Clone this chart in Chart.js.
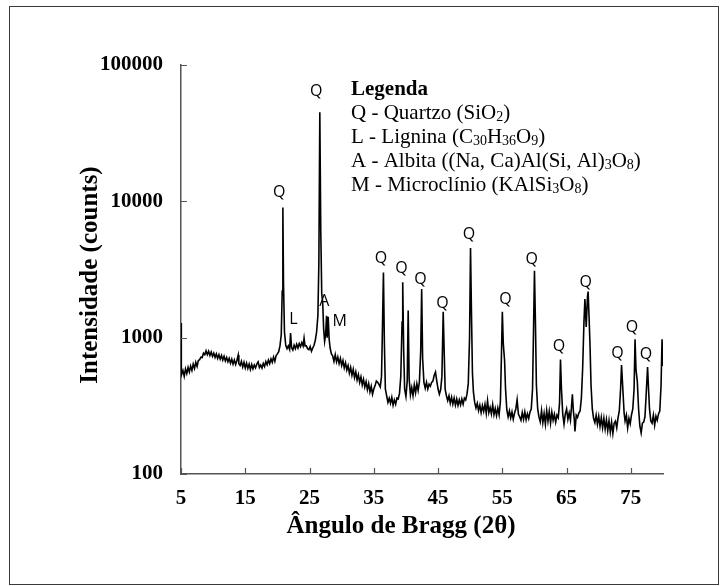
<!DOCTYPE html>
<html>
<head>
<meta charset="utf-8">
<script src="https://cdn.jsdelivr.net/npm/chart.js@4.4.1/dist/chart.umd.min.js"></script>
<style>
  html, body { margin: 0; padding: 0; background: #fff; }
  #wrap { position: relative; width: 726px; height: 586px; }
  #xrdChart { display: block; }
  #frame { position: absolute; left: 9px; top: 6px; width: 710px; height: 579px; border: 1px solid #3a3a3a; box-sizing: border-box; pointer-events: none; }
</style>
</head>
<body>
<div id="wrap">
  <canvas id="xrdChart" width="726" height="586"></canvas>
  <div id="frame"></div>
</div>
<script>
const angles = [
  5.0, 5.05, 5.3, 5.5, 5.7, 5.9, 6.1, 6.3, 6.5, 6.7, 6.9, 7.1, 7.3, 7.5, 7.7, 7.9,
  8.1, 8.3, 8.5, 8.7, 8.9, 9.1, 9.3, 9.5, 9.7, 9.9, 10.1, 10.3, 10.5, 10.7, 10.9,
  11.1, 11.3, 11.5, 11.7, 11.9, 12.1, 12.3, 12.5, 12.7, 12.9, 13.1, 13.3, 13.5, 13.7,
  13.9, 14.0, 14.2, 14.4, 14.6, 14.8, 15.0, 15.2, 15.4, 15.6, 15.8, 16.0, 16.2, 16.4,
  16.6, 16.8, 17.0, 17.2, 17.4, 17.6, 17.8, 18.0, 18.2, 18.4, 18.6, 18.8, 19.0, 19.2,
  19.4, 19.6, 19.8, 20.0, 20.2, 20.4, 20.6, 20.75, 20.85, 20.95, 21.1, 21.3, 21.5,
  21.7, 21.9, 22.05, 22.2, 22.4, 22.6, 22.8, 23.0, 23.2, 23.4, 23.6, 23.8, 24.0,
  24.15, 24.3, 24.5, 24.7, 24.9, 25.1, 25.3, 25.5, 25.7, 25.9, 26.1, 26.3, 26.45,
  26.6, 26.75, 26.9, 27.05, 27.2, 27.35, 27.5, 27.65, 27.75, 27.9, 28.05,
  28.2, 28.4, 28.6, 28.8, 29.0, 29.2, 29.4, 29.6, 29.8, 30.0, 30.2, 30.4, 30.6, 30.8,
  31.0, 31.2, 31.4, 31.6, 31.8, 32.0, 32.2, 32.4, 32.6, 32.8, 33.0, 33.2, 33.4, 33.6,
  33.8, 34.0, 34.2, 34.4, 34.6, 34.8, 35.0, 35.2, 35.4, 35.6, 35.8, 36.0, 36.2,
  36.35, 36.5, 36.65, 36.8, 37.0, 37.2, 37.4, 37.6, 37.8, 38.0, 38.2, 38.4, 38.6,
  38.8, 39.0, 39.2, 39.4, 39.5, 39.65, 39.8, 40.0, 40.2, 40.35, 40.5, 40.7, 40.9,
  41.1, 41.3, 41.5, 41.7, 41.9, 42.1, 42.3, 42.45, 42.6, 42.8, 43.0, 43.2, 43.4,
  43.6, 43.8, 44.0, 44.2, 44.4, 44.6, 44.8, 45.0, 45.2, 45.4, 45.6, 45.8, 45.95,
  46.1, 46.3, 46.5, 46.7, 46.9, 47.1, 47.3, 47.5, 47.7, 47.9, 48.1, 48.3, 48.5,
  48.7, 48.9, 49.1, 49.3, 49.5, 49.7, 49.9, 50.05, 50.2, 50.35, 50.5, 50.7, 50.9,
  51.1, 51.3, 51.5, 51.7, 51.9, 52.1, 52.3, 52.5, 52.7, 52.9, 53.1, 53.3, 53.5,
  53.7, 53.9, 54.1, 54.3, 54.5, 54.7, 54.85, 55.0, 55.15, 55.35, 55.5, 55.7, 55.9,
  56.1, 56.3, 56.5, 56.7, 56.9, 57.1, 57.3, 57.5, 57.7, 57.9, 58.1, 58.3, 58.5,
  58.7, 58.9, 59.1, 59.3, 59.5, 59.7, 59.85, 60.0, 60.15, 60.3, 60.5, 60.7, 60.9,
  61.1, 61.3, 61.5, 61.7, 61.9, 62.1, 62.3, 62.5, 62.7, 62.9, 63.1, 63.3, 63.5,
  63.7, 63.9, 64.05, 64.2, 64.4, 64.6, 64.8, 65.0, 65.2, 65.4, 65.6, 65.8, 65.9,
  66.05, 66.2, 66.3, 66.5, 66.7, 66.9, 67.1, 67.3, 67.5, 67.7, 67.85, 68.05, 68.25,
  68.35, 68.5, 68.65, 68.8, 69.0, 69.2, 69.4, 69.6, 69.8, 70.0, 70.2, 70.4, 70.6,
  70.8, 71.0, 71.2, 71.4, 71.6, 71.8, 72.0, 72.2, 72.4, 72.6, 72.8, 73.0, 73.2,
  73.4, 73.55, 73.75, 73.95, 74.1, 74.3, 74.5, 74.7, 74.9, 75.1, 75.3, 75.5, 75.65,
  75.8, 76.0, 76.2, 76.4, 76.6, 76.8, 77.0, 77.2, 77.4, 77.6, 77.75, 77.9, 78.1,
  78.3, 78.5, 78.7, 78.9, 79.1, 79.3, 79.5, 79.7, 79.85, 80.0
];

// Intensidade (counts) em cada ângulo (mesma disposição de linhas)
const counts = [
  1280, 530, 575, 520, 590, 545, 605, 560, 620, 575, 640, 595, 660, 615, 680, 690,
  720, 715, 770, 750, 800, 750, 795, 740, 785, 730, 770, 715, 760, 705, 750,
  695, 740, 685, 730, 675, 715, 665, 705, 650, 695, 640, 685, 635, 680,
  745, 645, 625, 670, 610, 660, 600, 650, 595, 640, 585, 635, 590, 630,
  600, 640, 665, 605, 630, 598, 648, 615, 668, 632, 684, 645, 700, 660,
  720, 670, 740, 760, 790, 870, 1050, 2200, 9000, 2500, 1100, 880, 830,
  870, 820, 1080, 845, 810, 880, 830, 895, 840, 905, 860, 920, 870,
  990, 870, 870, 830, 815, 860, 795, 840, 880, 960, 1100, 1450, 3500,
  45000, 6000, 2100, 1800, 1150, 940, 1050, 1450, 1000, 1420, 980,
  840, 760, 735, 670, 750, 665, 720, 645, 705, 625, 680, 600, 655, 580,
  625, 550, 605, 530, 585, 510, 560, 490, 535, 470, 515, 450, 495, 435,
  475, 415, 460, 400, 440, 385, 420, 445, 480, 470, 455, 435, 520,
  1200, 3000, 900, 420, 375, 335, 360, 330, 365, 320, 350, 325, 360,
  355, 390, 520, 1300, 2550, 800, 420, 370, 480, 1580, 500, 380, 430,
  375, 450, 395, 460, 410, 475, 800, 2270, 700, 470, 425, 470, 420,
  455, 440, 470, 480, 530, 560, 480, 420, 385, 415, 520, 1550, 800,
  420, 375, 345, 375, 330, 365, 325, 360, 320, 355, 318, 350, 322,
  355, 325, 360, 350, 385, 460, 1000, 4550, 1500, 550, 400, 335, 305,
  330, 292, 320, 282, 318, 288, 325, 278, 345, 282, 308, 276, 322,
  272, 302, 268, 305, 272, 340, 700, 1550, 900, 680, 420, 295, 262,
  290, 258, 285, 252, 280, 300, 350, 275, 262, 248, 282, 252, 286,
  250, 276, 255, 285, 300, 420, 1100, 3100, 1300, 450, 300, 262, 242,
  292, 238, 278, 232, 292, 244, 288, 236, 284, 248, 274, 240, 270,
  258, 330, 690, 420, 275, 232, 276, 300, 252, 280, 248, 330, 385,
  290, 250, 205, 270, 260, 280, 290, 360, 600, 1300, 1920, 1200, 2000,
  2180, 1400, 860, 450, 300, 255, 238, 270, 232, 265, 224, 260, 218,
  256, 214, 250, 208, 246, 203, 240, 198, 236, 244, 218, 258, 290,
  420, 630, 420, 280, 245, 270, 218, 256, 234, 272, 300, 420, 975,
  580, 480, 300, 225, 200, 236, 240, 265, 400, 610, 420, 300, 245,
  236, 270, 228, 266, 248, 276, 290, 450, 975, 620
];

const xTickValues = [5, 15, 25, 35, 45, 55, 65, 75];
const yTickValues = [100, 1000, 10000, 100000];

// Rótulos das fases sobre os picos
const peakLabels = ['Q', 'Q', 'L', 'A', 'M', 'Q', 'Q', 'Q', 'Q', 'Q', 'Q', 'Q', 'Q', 'Q', 'Q', 'Q', 'Q'];
const peakLabelAngles = [20.28, 26.05, 22.5, 27.3, 29.7, 36.13, 39.3, 42.26, 45.7, 49.82, 55.5, 59.57, 63.83, 67.99, 72.93, 75.16, 77.34];
const peakLabelCounts = [11700, 64500, 1350, 1850, 1310, 3830, 3240, 2690, 1790, 5710, 1920, 3720, 862, 2550, 771, 1188, 750];

// Legenda (índices ímpares = subscrito)
const legendTitle = 'Legenda';
const legendLines = [
  ['Q - Quartzo (SiO', '2', ')'],
  ['L - Lignina (C', '30', 'H', '36', 'O', '9', ')'],
  ['A - Albita ((Na, Ca)Al(Si, Al)', '3', 'O', '8', ')'],
  ['M - Microclínio (KAlSi', '3', 'O', '8', ')']
];

const xTitle = 'Ângulo de Bragg (2θ)';
const yTitle = 'Intensidade (counts)';

const serif = '"Liberation Serif", "Times New Roman", serif';

const annotationsPlugin = {
  id: 'annotations',
  afterDraw(chart) {
    const ctx = chart.ctx;
    const xs = chart.scales.x;
    const ys = chart.scales.y;
    const area = chart.chartArea;
    ctx.save();

    // marcas de escala para dentro
    ctx.strokeStyle = '#555';
    ctx.lineWidth = 1.2;
    ctx.beginPath();
    yTickValues.forEach(v => {
      const py = Math.round(ys.getPixelForValue(v)) + 0.5;
      ctx.moveTo(area.left, py);
      ctx.lineTo(area.left + 6, py);
    });
    xTickValues.forEach(v => {
      const px = Math.round(xs.getPixelForValue(v)) + 0.5;
      ctx.moveTo(px, area.bottom);
      ctx.lineTo(px, area.bottom - 6);
    });
    ctx.stroke();

    // títulos dos eixos
    ctx.fillStyle = '#000';
    ctx.font = 'bold 25px ' + serif;
    ctx.textAlign = 'center';
    ctx.textBaseline = 'middle';
    ctx.fillText(xTitle, 401, 527);
    ctx.save();
    ctx.translate(91, 275);
    ctx.rotate(-Math.PI / 2);
    ctx.fillText(yTitle, 0, 0);
    ctx.restore();

    // rótulos dos picos
    ctx.font = '16px "Open Sans", sans-serif';
    peakLabels.forEach((t, i) => {
      ctx.fillText(t, xs.getPixelForValue(peakLabelAngles[i]), ys.getPixelForValue(peakLabelCounts[i]));
    });

    // legenda
    const lx = 351;
    let ly = 95;
    ctx.textAlign = 'left';
    ctx.textBaseline = 'alphabetic';
    ctx.font = 'bold 21px ' + serif;
    ctx.fillText(legendTitle, lx, ly);
    legendLines.forEach(parts => {
      ly += 24;
      let cx = lx;
      parts.forEach((p, j) => {
        if (j % 2 === 1) {
          ctx.font = '14px ' + serif;
          ctx.fillText(p, cx, ly + 2);
        } else {
          ctx.font = '21px ' + serif;
          ctx.fillText(p, cx, ly);
        }
        cx += ctx.measureText(p).width;
      });
    });
    ctx.restore();
  }
};

new Chart(document.getElementById('xrdChart'), {
  type: 'line',
  data: {
    datasets: [{
      data: angles.map((a, i) => ({ x: a, y: counts[i] })),
      borderColor: '#000',
      borderWidth: 1.6,
      pointRadius: 0,
      tension: 0,
      fill: false
    }]
  },
  options: {
    responsive: false,
    animation: false,
    layout: { padding: { left: 0, top: 65, right: 63, bottom: 0 } },
    plugins: { legend: { display: false }, tooltip: { enabled: false } },
    scales: {
      x: {
        type: 'linear',
        min: 5,
        max: 80,
        afterBuildTicks: s => { s.ticks = xTickValues.map(v => ({ value: v })); },
        afterFit: s => { s.height = 112; },
        grid: { display: false, drawTicks: false },
        border: { display: true, color: '#555', width: 1.5 },
        ticks: {
          color: '#000',
          padding: 12,
          maxRotation: 0,
          autoSkip: false,
          font: { family: serif, size: 21, weight: 'bold' }
        },
        title: { display: false }
      },
      y: {
        type: 'logarithmic',
        min: 100,
        max: 100000,
        afterBuildTicks: s => { s.ticks = yTickValues.map(v => ({ value: v })); },
        afterFit: s => { s.width = 181; },
        grid: { display: false, drawTicks: false },
        border: { display: true, color: '#555', width: 1.5 },
        ticks: {
          color: '#000',
          padding: 18,
          callback: v => String(v),
          font: { family: serif, size: 21, weight: 'bold' }
        },
        title: { display: false }
      }
    }
  },
  plugins: [annotationsPlugin]
});
</script>
</body>
</html>
